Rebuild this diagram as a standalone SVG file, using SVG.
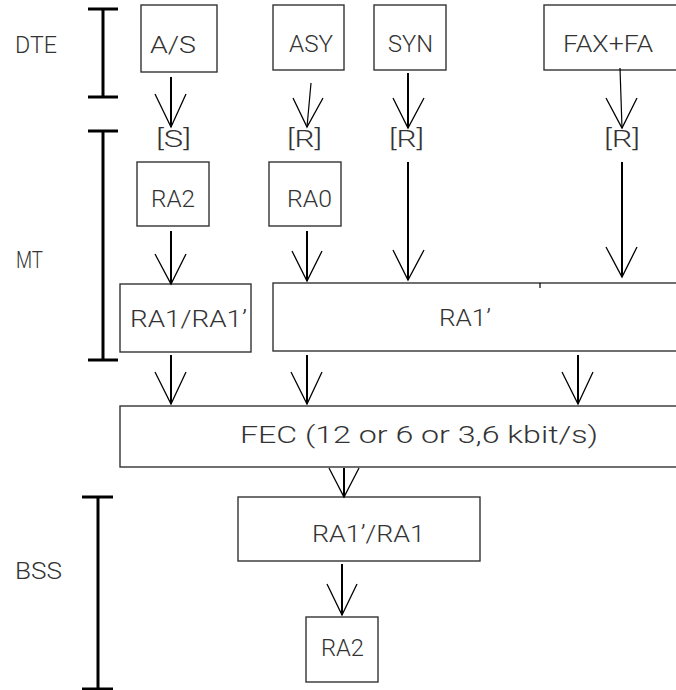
<svg xmlns="http://www.w3.org/2000/svg" width="676" height="690" viewBox="0 0 676 690">
<style>
  .box { fill: #ffffff; stroke: #333333; stroke-width: 1.4; }
  .t { font-family: Roboto, "DejaVu Sans", sans-serif; font-weight: 300; font-size: 24.5px; fill: #333333; }
  .br { stroke: #000000; stroke-width: 3; fill: none; }
  .shaft { stroke: #000000; stroke-width: 2; fill: none; }
  .thin { stroke: #000000; stroke-width: 1.2; fill: none; }
  .head { stroke: #000000; stroke-width: 1.3; fill: none; stroke-linejoin: miter; }
</style>
<rect width="676" height="690" fill="#ffffff"/>

<g id="brackets">
  <path class="br" d="M103,9 V97 M88,9 H118 M88,97 H118"/>
  <path class="br" d="M103,131 V360 M88,131 H118 M88,360 H118"/>
  <path class="br" d="M98,497 V689 M82,497 H113 M82,689 H113"/>
  <text class="t" x="15" y="53" textLength="42" lengthAdjust="spacingAndGlyphs">DTE</text>
  <text class="t" x="16" y="268" textLength="27" lengthAdjust="spacingAndGlyphs">MT</text>
  <text class="t" x="15" y="579" textLength="47" lengthAdjust="spacingAndGlyphs">BSS</text>
</g>

<g id="node-as">
  <rect class="box" x="141" y="5" width="76" height="67"/>
  <text class="t" x="150" y="53" textLength="46" lengthAdjust="spacingAndGlyphs">A/S</text>
</g>
<g id="node-asy">
  <rect class="box" x="273" y="5" width="71" height="65"/>
  <text class="t" x="289" y="52" textLength="44" lengthAdjust="spacingAndGlyphs">ASY</text>
</g>
<g id="node-syn">
  <rect class="box" x="374" y="5" width="72" height="65"/>
  <text class="t" x="388" y="52" textLength="45" lengthAdjust="spacingAndGlyphs">SYN</text>
</g>
<g id="node-fax">
  <rect class="box" x="544" y="5" width="140" height="65"/>
  <text class="t" x="563" y="52" textLength="90" lengthAdjust="spacingAndGlyphs">FAX+FA</text>
</g>

<g id="labels-interface">
  <text class="t" x="156" y="147" textLength="35" lengthAdjust="spacingAndGlyphs">[S]</text>
  <text class="t" x="287" y="147" textLength="35" lengthAdjust="spacingAndGlyphs">[R]</text>
  <text class="t" x="389" y="147" textLength="35" lengthAdjust="spacingAndGlyphs">[R]</text>
  <text class="t" x="604" y="147" textLength="36" lengthAdjust="spacingAndGlyphs">[R]</text>
</g>

<g id="node-ra2-top">
  <rect class="box" x="137" y="162" width="72" height="64"/>
  <text class="t" x="151" y="207" textLength="44" lengthAdjust="spacingAndGlyphs">RA2</text>
</g>
<g id="node-ra0">
  <rect class="box" x="269" y="162" width="72" height="64"/>
  <text class="t" x="287" y="207" textLength="45" lengthAdjust="spacingAndGlyphs">RA0</text>
</g>

<g id="node-ra1-ra1p">
  <rect class="box" x="120" y="284" width="131" height="68"/>
  <text class="t" x="130" y="327" textLength="117" lengthAdjust="spacingAndGlyphs">RA1/RA1’</text>
</g>
<g id="node-ra1p">
  <rect class="box" x="273" y="283" width="412" height="68"/>
  <path class="thin" d="M540,283 V288"/>
  <text class="t" x="439" y="326" textLength="52" lengthAdjust="spacingAndGlyphs">RA1’</text>
</g>

<g id="node-fec">
  <rect class="box" x="120" y="406" width="565" height="61"/>
  <text class="t" x="240" y="443" textLength="358" lengthAdjust="spacingAndGlyphs">FEC (12 or 6 or 3,6 kbit/s)</text>
</g>

<g id="node-ra1p-ra1">
  <rect class="box" x="238" y="497" width="242" height="64"/>
  <text class="t" x="312" y="542" textLength="113" lengthAdjust="spacingAndGlyphs">RA1’/RA1</text>
</g>

<g id="node-ra2-bottom">
  <rect class="box" x="306" y="617" width="72" height="65"/>
  <text class="t" x="321" y="656" textLength="43" lengthAdjust="spacingAndGlyphs">RA2</text>
</g>

<g id="connectors">
  <path class="shaft" d="M171,77 V127"/>
  <path class="head" d="M155,94 L171,127 L186,94"/>
  <path class="thin" d="M311,83 L307,127"/>
  <path class="head" d="M293,98 L307,127 L323,98"/>
  <path class="shaft" d="M408,73 V128"/>
  <path class="head" d="M393,98 L408,128 L424,98"/>
  <path class="thin" d="M620,68 L622,128"/>
  <path class="head" d="M606,98 L622,128 L637,98"/>

  <path class="shaft" d="M171,231 V284"/>
  <path class="head" d="M155,254 L171,284 L186,254"/>
  <path class="shaft" d="M307,231 V281"/>
  <path class="head" d="M292,251 L307,281 L322,251"/>
  <path class="shaft" d="M408,162 V280"/>
  <path class="head" d="M393,250 L408,280 L424,250"/>
  <path class="shaft" d="M622,162 V277"/>
  <path class="head" d="M606,247 L622,277 L637,247"/>

  <path class="shaft" d="M171,355 V404"/>
  <path class="head" d="M155,372 L171,404 L186,372"/>
  <path class="shaft" d="M307,355 V404"/>
  <path class="head" d="M291,372 L307,404 L322,372"/>
  <path class="shaft" d="M578,355 V404"/>
  <path class="head" d="M562,372 L578,404 L593,372"/>

  <path class="shaft" d="M344,468 V497"/>
  <path class="head" d="M329,468 L344,497 L359,468"/>

  <path class="shaft" d="M342,564 V615"/>
  <path class="head" d="M327,584 L342,615 L357,584"/>
</g>
</svg>
